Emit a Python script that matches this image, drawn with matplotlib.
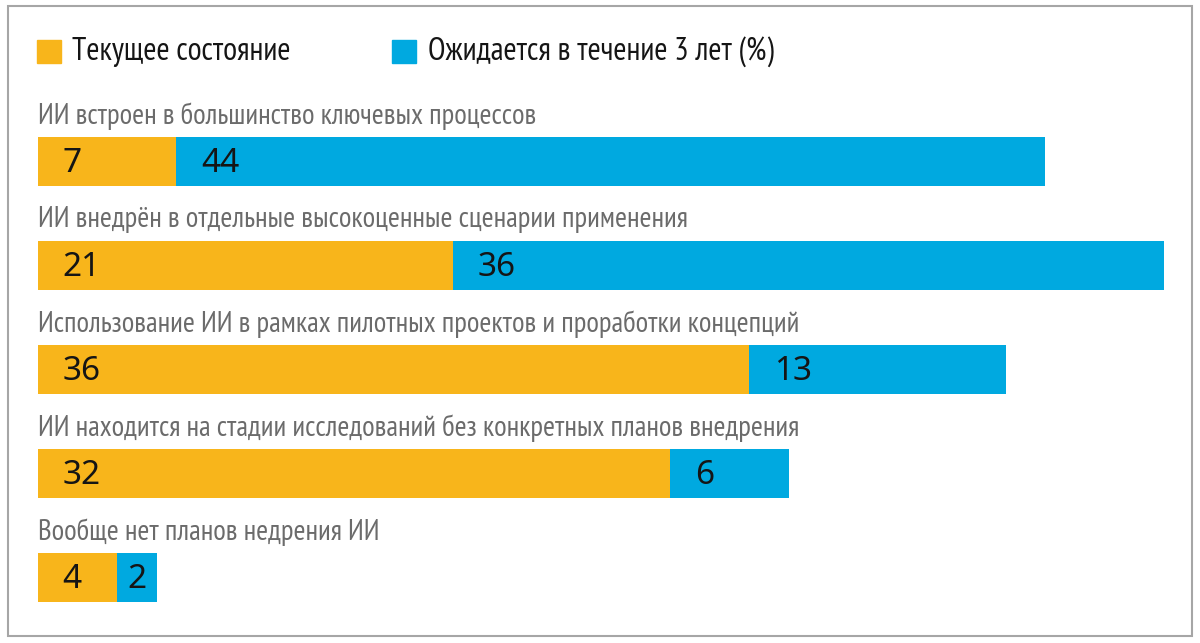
import matplotlib
matplotlib.use("Agg")
import matplotlib.pyplot as plt
from matplotlib.patches import Rectangle

plt.rcParams['font.family'] = ['PT Sans Narrow', 'DejaVu Sans']

categories = [
    "ИИ встроен в большинство ключевых процессов",
    "ИИ внедрён в отдельные высокоценные сценарии применения",
    "Использование ИИ в рамках пилотных проектов и проработки концепций",
    "ИИ находится на стадии исследований без конкретных планов внедрения",
    "Вообще нет планов недрения ИИ",
]
current = [7, 21, 36, 32, 4]
expected = [44, 36, 13, 6, 2]
legend_labels = ["Текущее состояние", "Ожидается в течение 3 лет (%)"]

orange = "#F8B51B"
blue = "#00A9E0"
grey_text = "#6B6B6B"

W, H = 1200, 643
fig = plt.figure(figsize=(12, 6.43), dpi=100)

# axes placed in pixels: x=0 at px 38, 57 units -> px 1164; bars centred at px 161.5 + 104*i
px_per_unit = 19.75
x0_px = 38
top_px, bot_px = 100, 620
bar0_px, step_px = 161.5, 104
ax = fig.add_axes([x0_px / W, 1 - bot_px / H, 60 * px_per_unit / W, (bot_px - top_px) / H])
ax.set_xlim(0, 60)
ax.set_ylim((bot_px - bar0_px) / step_px, (top_px - bar0_px) / step_px)
ax.axis("off")

y = list(range(len(categories)))
bh = 49 / step_px
ax.barh(y, current, height=bh, color=orange, edgecolor="none")
ax.barh(y, expected, left=current, height=bh, color=blue, edgecolor="none")

num_font = ['Noto Sans', 'DejaVu Sans']
for i in y:
    ax.text(0, i - 0.44, categories[i], ha="left", va="center",
            fontsize=20.7, color=grey_text)
    for start, val in [(0, current[i]), (current[i], expected[i])]:
        if val < 3:
            ax.text(start + val / 2, i + 0.02, str(val), ha="center", va="center",
                    fontsize=24, color="#151515", family=num_font)
        else:
            ax.text(start + 1.25, i + 0.02, str(val), ha="left", va="center",
                    fontsize=24, color="#151515", family=num_font)

# legend
leg_y = 1 - 52 / H
for xs, xt, col, lab in [(37, 72, orange, legend_labels[0]), (392, 428, blue, legend_labels[1])]:
    fig.patches.append(Rectangle((xs / W, 1 - 63 / H), 24 / W, 23 / H,
                                 transform=fig.transFigure, color=col))
    fig.text(xt / W, leg_y, lab, ha="left", va="center", fontsize=23, color="#151515")

# frame
fig.patches.append(Rectangle((8 / W, 1 - 636 / H), 1184 / W, 630 / H,
                             transform=fig.transFigure, fill=False,
                             edgecolor="#A6A6A6", linewidth=1.5))

fig.savefig("out.png", dpi=100)
